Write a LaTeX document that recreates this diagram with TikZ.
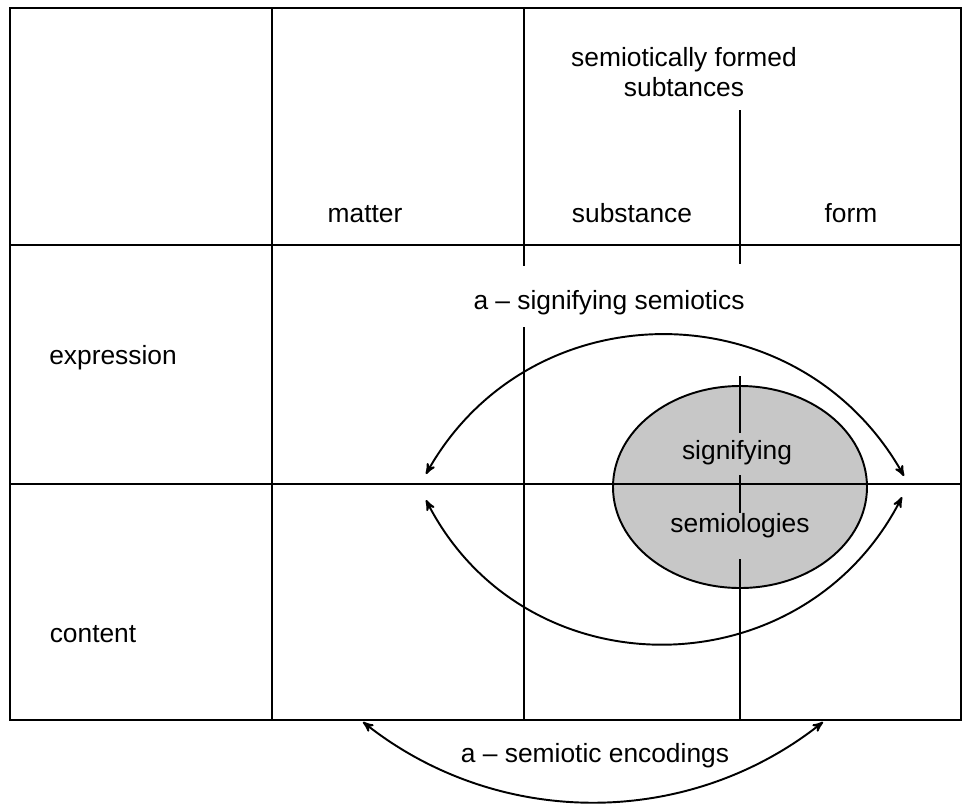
\documentclass[tikz,border=0pt]{standalone}
\usepackage{fontspec}
\setmainfont{Liberation Sans}
\usetikzlibrary{arrows}
\tikzstyle{rule}=[draw=black,line width=1.1pt]
\tikzstyle{lbl}=[font=\fontsize{15}{17}\selectfont,inner sep=0pt,anchor=base]
\tikzstyle{arr}=[<->,>=stealth',draw=black,line width=1.1pt]

\begin{document}
\begin{tikzpicture}[x=0.02cm,y=-0.02cm]
  \useasboundingbox (0,0) rectangle (964,806);
  % signifying semiologies
  \draw[rule,fill=black!22] (740,487) ellipse [x radius=127,y radius=101];
  % the table
  \draw[rule] (10,8) rectangle (961,720);
  \draw[rule] (10,245) -- (961,245);
  \draw[rule] (10,484) -- (961,484);
  \draw[rule] (272,8) -- (272,720);
  \draw[rule] (524,8) -- (524,266);
  \draw[rule] (524,327) -- (524,720);
  \draw[rule] (740,110) -- (740,264);
  \draw[rule] (740,376) -- (740,433);
  \draw[rule] (740,475) -- (740,513);
  \draw[rule] (740,559) -- (740,720);
  % labels
  \node[lbl,anchor=north,align=center] (formed) at (684,47) {semiotically formed\\subtances};
  \node[lbl] (matter) at (365,222) {matter};
  \node[lbl] (substance) at (632,222) {substance};
  \node[lbl] (form) at (851,222) {form};
  \node[lbl] (signsem) at (609,309) {a -- signifying semiotics};
  \node[lbl] (expression) at (113,364) {expression};
  \node[lbl] (signifying) at (737,459) {signifying};
  \node[lbl] (semiologies) at (740,532) {semiologies};
  \node[lbl] (content) at (93,642) {content};
  \node[lbl] (encodings) at (595,762) {a -- semiotic encodings};
  % arcs
  \coordinate (sigL) at (426,474);
  \coordinate (sigR) at (904,476);
  \coordinate (semL) at (426,500);
  \coordinate (semR) at (902,497);
  \coordinate (encL) at (363,722);
  \coordinate (encR) at (823,722);
  \draw[arr] (sigL) .. controls +(105,-187) and +(-105,-187) .. (sigR);
  \draw[arr] (semL) .. controls +(99,194) and +(-99,194) .. (semR);
  \draw[arr] (encL) .. controls +(135,107) and +(-135,107) .. (encR);
\end{tikzpicture}
\end{document}
